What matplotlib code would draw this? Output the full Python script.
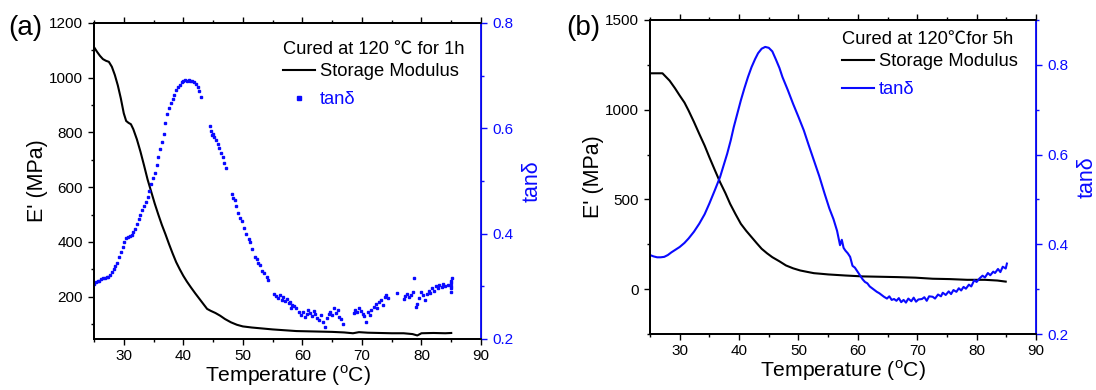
import matplotlib.pyplot as plt
from matplotlib.ticker import MultipleLocator

plt.rcParams['font.family'] = ['Liberation Sans', 'Noto Sans CJK SC', 'DejaVu Sans']

# ---- panel (a): cured 1 h ----
a_mod_T = [25.0, 25.5, 26.0, 26.5, 27.0, 27.5, 28.0, 28.5, 29.0, 29.5, 30.0, 30.4,
           30.8, 31.2, 31.6, 32.2, 32.8, 33.4, 34.0, 34.6, 35.2, 35.8, 36.4, 37.0,
           37.6, 38.2, 38.8, 39.4, 40.0, 40.6, 41.3, 42.0, 42.7, 43.4, 44.0, 44.6,
           45.4, 46.2, 47.0, 48.0, 49.0, 50.0, 51.5, 53.0, 55.0, 57.0, 59.0, 61.0,
           63.0, 65.0, 67.0, 68.5, 69.5, 71.0, 73.0, 75.0, 77.0, 78.5, 79.3, 80.0,
           82.0, 84.0, 85.0]
a_mod = [1112, 1095, 1080, 1068, 1062, 1058, 1040, 1010, 972, 925, 870, 842,
         835, 830, 812, 775, 730, 680, 628, 584, 540, 500, 462, 428,
         392, 358, 326, 300, 276, 255, 233, 212, 192, 172, 155, 148,
         140, 130, 118, 106, 97, 91, 87, 84, 80, 77, 74, 73,
         72, 71, 69, 66, 70, 68, 67, 66, 66, 63, 58, 66,
         67, 66, 67]

a_tan_T = [25.0, 25.3, 25.6, 25.9, 26.2, 26.5, 26.8, 27.1, 27.4, 27.7, 28.0, 28.3,
           28.6, 28.9, 29.2, 29.5, 29.8, 30.1, 30.4, 30.7, 31.0, 31.3, 31.6, 31.9,
           32.2, 32.5, 32.8, 33.1, 33.4, 33.7, 34.0, 34.3, 34.6, 34.9, 35.2, 35.5,
           35.8, 36.1, 36.4, 36.7, 37.0, 37.3, 37.6, 37.9, 38.2, 38.5, 38.8, 39.1,
           39.4, 39.7, 40.0, 40.3, 40.6, 40.9, 41.2, 41.5, 41.8, 42.1, 42.4, 42.7,
           42.9,
           44.4, 44.6, 44.8, 45.0, 45.2, 45.5, 45.8, 46.0, 46.3, 46.6, 46.9, 47.1,
           48.1, 48.3, 48.6, 48.9, 49.2, 49.5, 49.8, 50.2, 50.6, 51.0, 51.2, 51.6,
           52.0, 52.3, 52.6, 52.9, 53.3, 53.6, 54.0, 54.3,
           55.3, 55.6, 55.9, 56.2, 56.5, 56.8, 57.1, 57.4, 57.7, 58.0, 58.3, 58.6,
           58.1, 59.0, 59.4, 59.8, 60.1, 60.4, 60.7, 61.0, 61.3, 61.6, 61.9, 62.2,
           62.5, 62.8, 63.1, 63.4, 63.8, 64.1, 64.4, 64.7, 65.0, 65.3, 65.6, 65.9,
           66.2, 66.5, 66.8,
           68.6, 68.9, 69.2, 69.5, 69.8, 70.1, 70.4, 70.7, 71.0, 71.3, 71.6, 72.0,
           72.3, 72.6, 72.9, 73.2, 73.5, 73.8, 74.1, 74.4,
           75.9, 77.0, 77.3, 77.6, 77.9, 78.2, 78.5, 78.7, 79.0, 79.2, 79.6, 80.0,
           80.3, 80.6, 80.9, 81.2, 81.5, 81.8, 82.1, 82.4, 82.7, 83.0, 83.4, 83.7,
           84.0, 84.5, 84.9, 85.0, 85.0, 85.1, 85.0, 84.9]
a_tan = [0.305, 0.308, 0.310, 0.311, 0.313, 0.315, 0.316, 0.317, 0.318, 0.322, 0.328, 0.333,
         0.339, 0.345, 0.356, 0.366, 0.375, 0.385, 0.391, 0.394, 0.395, 0.398, 0.403, 0.409,
         0.418, 0.427, 0.436, 0.445, 0.452, 0.460, 0.470, 0.481, 0.494, 0.505, 0.516, 0.530,
         0.545, 0.560, 0.575, 0.590, 0.610, 0.627, 0.638, 0.648, 0.656, 0.663, 0.672, 0.678,
         0.683, 0.688, 0.690, 0.691, 0.690, 0.691, 0.689, 0.690, 0.688, 0.684, 0.678, 0.670,
         0.660,
         0.605, 0.595, 0.588, 0.590, 0.583, 0.578, 0.570, 0.562, 0.553, 0.545, 0.535, 0.525,
         0.475, 0.468, 0.463, 0.452, 0.440, 0.430, 0.425, 0.410, 0.400, 0.390, 0.385, 0.370,
         0.356, 0.352, 0.345, 0.340, 0.330, 0.325, 0.318, 0.312,
         0.286, 0.282, 0.278, 0.284, 0.275, 0.279, 0.272, 0.276, 0.268, 0.271, 0.264, 0.262,
         0.258, 0.258, 0.252, 0.246, 0.252, 0.241, 0.248, 0.255, 0.250, 0.244, 0.254, 0.247,
         0.240, 0.236, 0.245, 0.233, 0.222, 0.240, 0.247, 0.252, 0.245, 0.258, 0.250, 0.256,
         0.242, 0.238, 0.228,
         0.250, 0.256, 0.252, 0.258, 0.254, 0.248, 0.244, 0.233, 0.252, 0.246, 0.255, 0.260,
         0.266, 0.258, 0.270, 0.274, 0.265, 0.280, 0.283, 0.278,
         0.287, 0.276, 0.282, 0.286, 0.280, 0.284, 0.290, 0.316, 0.260, 0.266, 0.278, 0.290,
         0.284, 0.275, 0.286, 0.292, 0.288, 0.296, 0.292, 0.300, 0.296, 0.302, 0.298, 0.304,
         0.300, 0.302, 0.306, 0.310, 0.296, 0.315, 0.300, 0.290]

# ---- panel (b): cured 5 h ----
b_mod_T = [25.0, 26.0, 27.1, 28.3, 29.2, 30.0, 30.8, 31.5, 32.4, 33.3, 34.2, 35.0,
           35.9, 36.8, 37.7, 38.5, 39.4, 40.3, 41.2, 42.1, 43.0, 43.8, 44.7, 45.6,
           46.8, 47.9, 49.1, 50.3, 51.5, 52.6, 54.0, 55.0, 57.9, 60.8, 63.8, 66.7,
           69.7, 72.6, 75.5, 78.4, 81.4, 83.5, 84.9]
b_mod = [1203, 1203, 1203, 1162, 1120, 1079, 1040, 995, 932, 865, 800, 735,
         665, 596, 535, 475, 418, 364, 325, 290, 255, 225, 200, 178,
         155, 132, 116, 104, 96, 89, 85, 82, 76, 71, 69, 67,
         64, 58, 56, 52, 52, 48, 42]

b_tan_T = [25.0, 25.6, 26.2, 26.8, 27.4, 28.0, 28.6, 29.3, 30.0, 30.8, 31.5, 32.4,
           33.3, 34.2, 35.0, 35.9, 36.8, 37.4, 38.0, 38.6, 39.1, 39.7, 40.3, 40.9,
           41.5, 42.1, 42.7, 43.2, 43.8, 44.4, 45.0, 45.6, 46.2, 46.8, 47.3, 48.2,
           49.1, 50.0, 50.9, 51.7, 52.6, 53.5, 54.4, 55.2, 55.9, 56.5, 57.0, 57.3,
           57.6, 57.9, 58.3, 58.7, 59.1, 59.5, 60.0, 60.4, 60.8, 61.2, 61.6, 62.0,
           62.4, 62.8, 63.2, 63.6, 64.0, 64.4, 64.9, 65.3, 65.7, 66.1, 66.5, 66.9,
           67.3, 67.7, 68.1, 68.5, 69.0, 69.4, 69.8, 70.2, 70.8, 71.2, 71.6, 72.0,
           72.6, 73.0, 73.5, 74.0, 74.3, 74.8, 75.3, 75.7, 76.1, 76.6, 77.0, 77.4,
           77.8, 78.2, 78.7, 79.1, 79.6, 80.0, 80.5, 81.0, 81.4, 81.9, 82.3, 82.8,
           83.1, 83.6, 84.0, 84.4, 84.9, 85.1]
b_tan = [0.376, 0.373, 0.371, 0.371, 0.372, 0.376, 0.382, 0.388, 0.394, 0.403, 0.413, 0.428,
         0.446, 0.467, 0.491, 0.520, 0.550, 0.576, 0.602, 0.632, 0.661, 0.691, 0.721, 0.748,
         0.773, 0.795, 0.813, 0.826, 0.836, 0.840, 0.838, 0.830, 0.812, 0.793, 0.773, 0.744,
         0.713, 0.684, 0.654, 0.622, 0.587, 0.552, 0.513, 0.480, 0.456, 0.430, 0.398, 0.410,
         0.392, 0.386, 0.380, 0.372, 0.352, 0.348, 0.338, 0.330, 0.322, 0.316, 0.313, 0.306,
         0.302, 0.298, 0.294, 0.291, 0.287, 0.283, 0.279, 0.284, 0.276, 0.278, 0.274, 0.280,
         0.271, 0.276, 0.270, 0.279, 0.273, 0.281, 0.272, 0.277, 0.278, 0.282, 0.274, 0.284,
         0.283, 0.279, 0.288, 0.284, 0.292, 0.287, 0.295, 0.289, 0.298, 0.294, 0.302, 0.297,
         0.305, 0.301, 0.310, 0.306, 0.320, 0.316, 0.324, 0.330, 0.326, 0.336, 0.331, 0.339,
         0.336, 0.345, 0.338, 0.350, 0.346, 0.357]

x_ticks = [30, 40, 50, 60, 70, 80, 90]
blue = '#0a0aff'
W, H = 1096, 390


def style_axes(ax, ax2):
    ax.set_xlim(25, 90)
    ax.set_xticks(x_ticks)
    ax.xaxis.set_minor_locator(MultipleLocator(5))
    ax.tick_params(which='both', direction='out', top=True, right=False,
                   labelsize=11, width=1.0)
    ax.tick_params(which='major', length=4.5)
    ax.tick_params(which='minor', length=2.5)
    ax.tick_params(axis='x', pad=2.5)
    ax2.tick_params(which='both', direction='out', colors=blue, labelsize=11, width=1.0)
    ax2.tick_params(which='major', length=4.5)
    ax2.tick_params(which='minor', length=2.5)
    for s in ['left', 'bottom', 'top']:
        ax.spines[s].set_linewidth(1.3)
        ax2.spines[s].set_linewidth(1.3)
    ax2.spines['right'].set_color(blue)
    ax2.spines['right'].set_linewidth(1.3)
    ax.set_xlabel('Temperature ($^{\\mathregular{o}}$C)', fontsize=15.2, labelpad=0.5)
    ax.set_ylabel("E' (MPa)", fontsize=15.5, labelpad=1)
    ax2.set_ylabel('tanδ', fontsize=15.5, color=blue, labelpad=6)


def add_legend(ax2, handles, title, x, y_title, y_top):
    fig.text(x / W, 1 - y_title / H, title, fontsize=13.2, va='center', ha='left')
    ax2.legend(handles, ['Storage Modulus', 'tanδ'], loc='upper left',
               bbox_to_anchor=(x / W, 1 - y_top / H), bbox_transform=fig.transFigure,
               frameon=False, fontsize=13.2, labelcolor=['black', blue],
               handlelength=1.75, handletextpad=0.28, numpoints=1, markerscale=1.2,
               borderpad=0, borderaxespad=0, labelspacing=0.6)


fig = plt.figure(figsize=(W / 100, H / 100), dpi=100)

# (a)
axa = fig.add_axes([94 / W, 1 - 339 / H, 387 / W, 316 / H])
axa2 = axa.twinx()
la, = axa.plot(a_mod_T, a_mod, color='black', lw=1.5)
sa, = axa2.plot(a_tan_T, a_tan, linestyle='none', marker='s', ms=2.0, color=blue)
axa.set_ylim(45, 1200)
axa.set_yticks([200, 400, 600, 800, 1000, 1200])
axa.yaxis.set_minor_locator(MultipleLocator(100))
axa2.set_ylim(0.2, 0.8)
axa2.set_yticks([0.2, 0.4, 0.6, 0.8])
axa2.yaxis.set_minor_locator(MultipleLocator(0.1))
style_axes(axa, axa2)
add_legend(axa2, [la, sa], 'Cured at 120 ℃ for 1h', 283, 50, 63)
fig.text(25 / W, 1 - 28 / H, '(a)', fontsize=20, va='center', ha='center')

# (b)
axb = fig.add_axes([650 / W, 1 - 334 / H, 386 / W, 314 / H])
axb2 = axb.twinx()
lb, = axb.plot(b_mod_T, b_mod, color='black', lw=1.5)
tb, = axb2.plot(b_tan_T, b_tan, color=blue, lw=1.5)
axb.set_ylim(-250, 1500)
axb.set_yticks([0, 500, 1000, 1500])
axb.yaxis.set_minor_locator(MultipleLocator(250))
axb2.set_ylim(0.2, 0.9)
axb2.set_yticks([0.2, 0.4, 0.6, 0.8])
axb2.yaxis.set_minor_locator(MultipleLocator(0.1))
style_axes(axb, axb2)
add_legend(axb2, [lb, tb], 'Cured at 120℃for 5h', 842, 40, 53)
fig.text(583 / W, 1 - 28 / H, '(b)', fontsize=20, va='center', ha='center')

fig.savefig('out.png', dpi=100)
